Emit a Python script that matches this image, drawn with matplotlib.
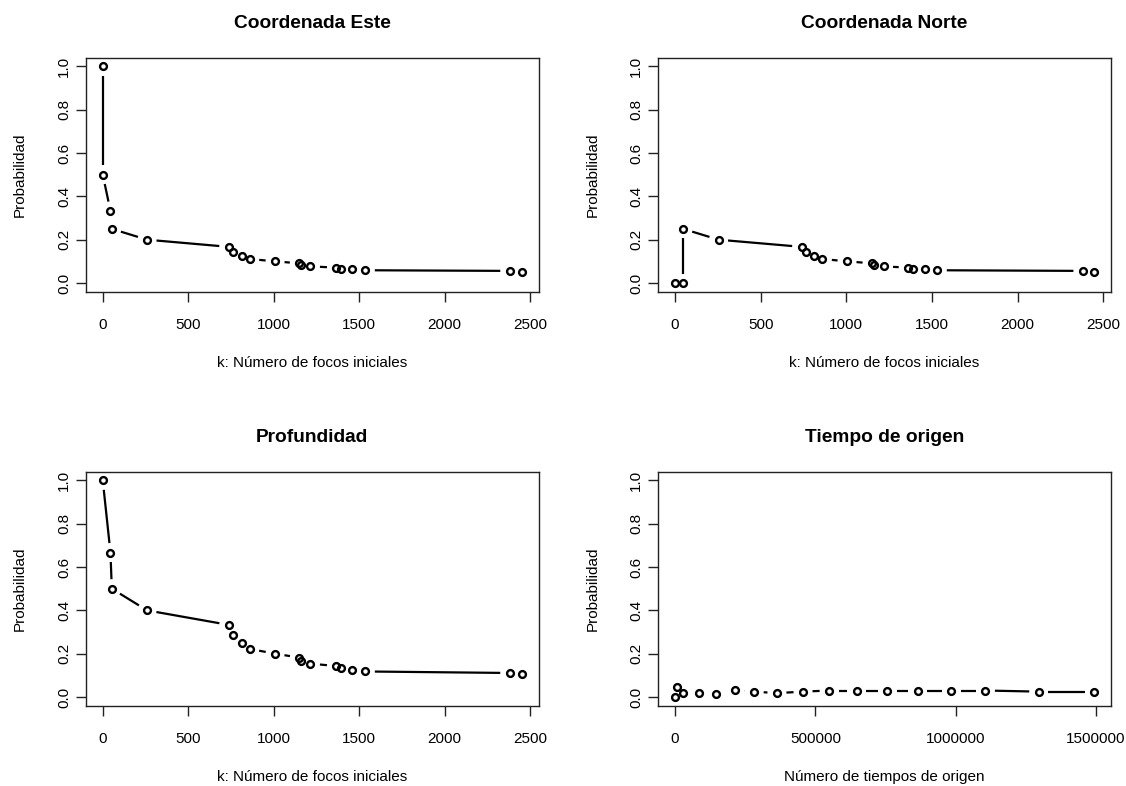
import numpy as np
import matplotlib
matplotlib.use("Agg")
import matplotlib.pyplot as plt
from matplotlib.transforms import offset_copy, blended_transform_factory

plt.rcParams['font.family'] = ['Liberation Sans', 'DejaVu Sans']

# datos
x_este = [0, 0, 45, 53, 259, 737, 760, 817, 860, 1008, 1150, 1160, 1215,
          1367, 1396, 1460, 1536, 2381, 2451]
p_este = [1.0, 0.5, 0.333, 0.25, 0.2, 0.167, 0.143, 0.125, 0.111, 0.1, 0.091,
          0.083, 0.077, 0.071, 0.067, 0.0625, 0.059, 0.056, 0.053]

x_norte = [0, 47, 47, 254, 739, 762, 811, 860, 1004, 1150, 1160, 1217,
           1361, 1390, 1460, 1531, 2381, 2446]
p_norte = [0.0, 0.0, 0.25, 0.2, 0.167, 0.143, 0.125, 0.111, 0.1, 0.091, 0.083,
           0.077, 0.071, 0.067, 0.0625, 0.059, 0.056, 0.053]

x_prof = [0, 45, 53, 259, 737, 760, 817, 860, 1008, 1150, 1160, 1215,
          1367, 1396, 1460, 1536, 2381, 2451]
p_prof = [1.0, 0.667, 0.5, 0.4, 0.333, 0.286, 0.25, 0.222, 0.2, 0.182, 0.167,
          0.154, 0.143, 0.133, 0.125, 0.118, 0.111, 0.105]

x_tiempo = [0, 8300, 29800, 85700, 147600, 214000, 282000, 363000, 456000,
            549000, 647600, 757000, 865400, 984400, 1106000, 1296000, 1493000]
p_tiempo = [0.0, 0.048, 0.017, 0.019, 0.015, 0.031, 0.025, 0.018, 0.025, 0.03,
            0.03, 0.03, 0.03, 0.03, 0.03, 0.025, 0.025]

titles = ["Coordenada Este", "Coordenada Norte", "Profundidad", "Tiempo de origen"]
xlabels = ["k: Número de focos iniciales", "k: Número de focos iniciales",
           "k: Número de focos iniciales", "Número de tiempos de origen"]
xticks_k = [0, 500, 1000, 1500, 2000, 2500]
xticks_t = [0, 500000, 1000000, 1500000]
yticks = [0.0, 0.2, 0.4, 0.6, 0.8, 1.0]

W, H = 1126, 786
fig = plt.figure(figsize=(W / 100, H / 100), dpi=100)

aw, ah = 452.5, 234
boxes = [(86, 291.7), (658.3, 291.7), (86, 705.7), (658.3, 705.7)]  # left, bottom in px (top origin)
series = [(x_este, p_este, xticks_k), (x_norte, p_norte, xticks_k),
          (x_prof, p_prof, xticks_k), (x_tiempo, p_tiempo, xticks_t)]

FS = 11
GAP = 9.5


def draw_b(ax, x, y):
    # R type="b": lineas con hueco alrededor de cada punto
    T = ax.transData
    pts = T.transform(np.column_stack([x, y]))
    for p0, p1 in zip(pts[:-1], pts[1:]):
        d = p1 - p0
        L = np.hypot(d[0], d[1])
        if L <= 2 * GAP:
            continue
        u = d / L
        seg = T.inverted().transform([p0 + u * GAP, p1 - u * GAP])
        ax.plot(seg[:, 0], seg[:, 1], color='black', lw=1.6, solid_capstyle='butt')
    ax.plot(x, y, 'o', ms=4.9, mfc='none', mec='black', mew=1.7)


for i, ((left, bottom), (x, y, xt)) in enumerate(zip(boxes, series)):
    ax = fig.add_axes([left / W, (H - bottom) / H, aw / W, ah / H])
    xr = max(x) - min(x)
    ax.set_xlim(min(x) - 0.04 * xr, max(x) + 0.04 * xr)
    ax.set_ylim(-0.04, 1.04)
    ax.set_xticks(xt)
    ax.set_yticks(yticks)
    ax.tick_params(direction='out', length=7, width=1, color='#222222',
                   labelbottom=False, labelleft=False)
    for s in ax.spines.values():
        s.set_linewidth(1)
        s.set_color('#222222')

    draw_b(ax, x, y)

    # etiquetas de los ticks
    tx = blended_transform_factory(ax.transData, ax.transAxes)
    tx = offset_copy(tx, fig, y=-37.6, units='dots')
    for v in xt:
        ax.text(v, 0, str(v), transform=tx, ha='center', va='baseline', fontsize=FS)
    ty = blended_transform_factory(ax.transAxes, ax.transData)
    ty = offset_copy(ty, fig, x=-18, units='dots')
    for v in yticks:
        ax.text(0, v, f"{v:.1f}", transform=ty, ha='center', va='baseline',
                rotation=90, rotation_mode='anchor', fontsize=FS)

    ax.text(0.5, 1, titles[i], transform=offset_copy(ax.transAxes, fig, y=29.5, units='dots'),
            ha='center', va='baseline', fontsize=13.8, fontweight='bold')
    ax.text(0.5, 0, xlabels[i], transform=offset_copy(ax.transAxes, fig, y=-75.6, units='dots'),
            ha='center', va='baseline', fontsize=FS)
    ax.text(0, 0.5, "Probabilidad", transform=offset_copy(ax.transAxes, fig, x=-62, units='dots'),
            ha='center', va='baseline', rotation=90, rotation_mode='anchor', fontsize=FS)

fig.savefig("out.png", dpi=100, facecolor='white')
